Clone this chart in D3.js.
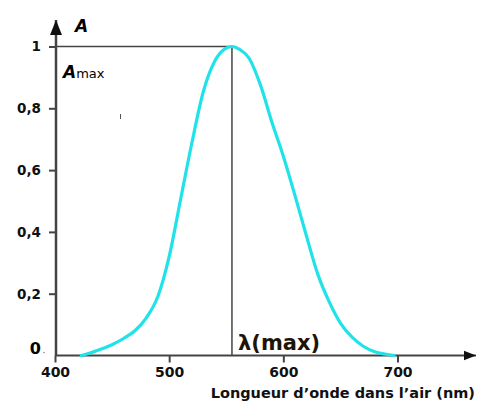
<!DOCTYPE html>
<html>
<head>
<meta charset="utf-8">
<script src="https://cdn.jsdelivr.net/npm/d3@7"></script>
<style>
  body { margin: 0; background: #fff; }
  text { font-family: "DejaVu Sans", Verdana, sans-serif; font-weight: bold; }
</style>
</head>
<body>
<svg width="479" height="403"></svg>
<script>
// spectre d'absorption
var wavelengths = [423, 430, 440, 450, 460, 470, 480, 490, 500, 510, 520, 530, 540, 548, 555, 562, 570, 580, 590, 600, 610, 620, 630, 640, 650, 660, 670, 680, 690, 697];
var absorbance  = [0, 0.007, 0.02, 0.035, 0.055, 0.08, 0.122, 0.19, 0.32, 0.505, 0.69, 0.855, 0.953, 0.99, 1.0, 0.99, 0.962, 0.875, 0.755, 0.645, 0.52, 0.39, 0.265, 0.175, 0.105, 0.06, 0.03, 0.012, 0.004, 0];
var xTicks = [400, 500, 600, 700];
var yTicks = [0.2, 0.4, 0.6, 0.8, 1];
var lambdaMax = 555;
var aMax = 1;

var svg = d3.select("svg");

var x = d3.scaleLinear().domain([400, 700]).range([55, 397.5]);
var y = d3.scaleLinear().domain([0, 1]).range([355.5, 46.5]);

var axisColor = "#444";

// fleches
var defs = svg.append("defs");
defs.append("marker")
    .attr("id", "arrow")
    .attr("viewBox", "0 0 10 10")
    .attr("refX", 10).attr("refY", 5)
    .attr("markerWidth", 6).attr("markerHeight", 6)
    .attr("markerUnits", "strokeWidth")
    .attr("orient", "auto")
  .append("path")
    .attr("d", "M0,1 L10,5 L0,9 Z")
    .attr("fill", "#111");

// axe des abscisses
svg.append("line")
    .attr("x1", x(400)).attr("x2", 476)
    .attr("y1", y(0)).attr("y2", y(0))
    .attr("stroke", axisColor).attr("stroke-width", 2)
    .attr("marker-end", "url(#arrow)");

// axe des ordonnees
svg.append("line")
    .attr("x1", x(400) + 1).attr("x2", x(400) + 1)
    .attr("y1", y(0)).attr("y2", 20)
    .attr("stroke", axisColor).attr("stroke-width", 2.5)
    .attr("marker-end", "url(#arrow)");

var xAxis = svg.append("g")
    .attr("transform", "translate(0," + y(0) + ")")
    .call(d3.axisBottom(x).tickValues(xTicks).tickSize(7).tickPadding(5).tickFormat(d3.format("d")));
xAxis.select(".domain").remove();
xAxis.selectAll("line").attr("stroke", axisColor).attr("stroke-width", 2);
xAxis.selectAll("text").attr("fill", "#111").style("font-size", "14px");

var yAxis = svg.append("g")
    .attr("transform", "translate(" + (x(400) + 1) + ",0)")
    .call(d3.axisLeft(y).tickValues(yTicks).tickSize(7).tickPadding(8)
      .tickFormat(function(d){ return d === 1 ? "1" : d3.format(".1f")(d).replace(".", ","); }));
yAxis.select(".domain").remove();
yAxis.selectAll("line").attr("stroke", axisColor).attr("stroke-width", 2);
yAxis.selectAll("text").attr("fill", "#111").style("font-size", "13.5px");

// "0" a l'origine
svg.append("text")
    .attr("x", 41).attr("y", y(0) - 2)
    .attr("text-anchor", "end")
    .style("font-size", "16px")
    .attr("fill", "#000")
    .text("0");
svg.append("circle").attr("cx", 44).attr("cy", y(0) - 3).attr("r", 0.8).attr("fill", "#888");

// lignes de reperage
svg.append("line")
    .attr("x1", x(400) + 2).attr("x2", x(lambdaMax))
    .attr("y1", y(aMax)).attr("y2", y(aMax))
    .attr("stroke", axisColor).attr("stroke-width", 1.5);
svg.append("line")
    .attr("x1", x(lambdaMax)).attr("x2", x(lambdaMax))
    .attr("y1", y(aMax)).attr("y2", y(0))
    .attr("stroke", axisColor).attr("stroke-width", 1.5);

// courbe
var pts = wavelengths.map(function(w, i){ return [w, absorbance[i]]; });
var line = d3.line()
    .x(function(d){ return x(d[0]); })
    .y(function(d){ return y(d[1]); })
    .curve(d3.curveMonotoneX);
svg.append("path")
    .datum(pts)
    .attr("d", line)
    .attr("fill", "none")
    .attr("stroke", "#1fe3e8")
    .attr("stroke-width", 3.2)
    .attr("stroke-linecap", "round");

// petite marque parasite
svg.append("line").attr("x1", 120.5).attr("x2", 120.5).attr("y1", 114).attr("y2", 119)
    .attr("stroke", "#555").attr("stroke-width", 1);

// libelles
svg.append("text")
    .attr("x", 75).attr("y", 32)
    .style("font-size", "17px").style("font-style", "italic")
    .attr("fill", "#000")
    .text("A");

var amax = svg.append("text")
    .attr("x", 63).attr("y", 78)
    .attr("fill", "#000");
amax.append("tspan").style("font-size", "17px").style("font-style", "italic").text("A");
amax.append("tspan").style("font-size", "13px").style("font-weight", "normal").text("max");

svg.append("text")
    .attr("x", 238).attr("y", 350)
    .style("font-size", "21px")
    .attr("fill", "#1e1408")
    .text("\u03bb(max)");

svg.append("text")
    .attr("x", 475).attr("y", 398)
    .attr("text-anchor", "end")
    .style("font-size", "14.5px")
    .attr("fill", "#111")
    .text("Longueur d\u2019onde dans l\u2019air (nm)");
</script>
</body>
</html>
